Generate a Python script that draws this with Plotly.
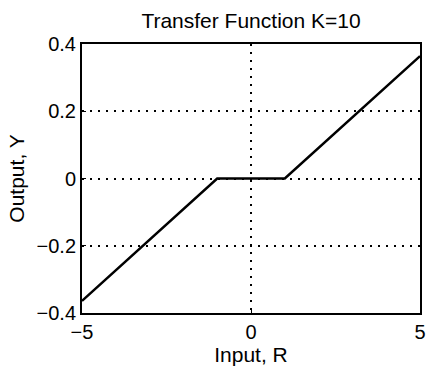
import plotly.graph_objects as go

# dead-zone transfer curve
input_r = [-5, -1, 1, 5]
output_y = [-0.364, 0.0, 0.0, 0.364]

x_ticks = [-5, 0, 5]
y_ticks = [-0.4, -0.2, 0, 0.2, 0.4]

FONT = "Liberation Sans, Arial, Helvetica, sans-serif"

W, H = 427, 368

fig = go.Figure()
fig.add_trace(go.Scatter(
    x=input_r, y=output_y, mode="lines",
    line=dict(color="black", width=2.5),
    showlegend=False,
))

axis_style = dict(
    showline=True, mirror=True, linecolor="black", linewidth=2,
    showgrid=True, gridcolor="black", gridwidth=1.8, griddash="2px,6px",
    zeroline=False, ticks="inside", ticklen=4, tickcolor="black",
    tickfont=dict(size=20, color="black"),
    automargin=False, ticklabeloverflow="allow",
)

fig.update_layout(
    width=W, height=H,
    paper_bgcolor="white", plot_bgcolor="white",
    font=dict(family=FONT, color="black"),
    margin=dict(l=82, r=7, t=44, b=55),
    title=dict(text="Transfer Function K=10", x=0.5, xref="paper",
               y=1 - 21 / H, yref="container", yanchor="middle",
               font=dict(size=21, color="black"), automargin=False),
    xaxis=dict(range=[-5, 5], tickvals=x_ticks,
               title=dict(text="Input, R", font=dict(size=21), standoff=2),
               **axis_style),
    yaxis=dict(range=[-0.4, 0.4], tickvals=y_ticks,
               title=dict(text="Output, Y", font=dict(size=21), standoff=6),
               **axis_style),
)

# drop the browser's default 8px body margin so the figure fills the window
fig.write_html("out.html",
               config={"displayModeBar": False},
               post_script="document.body.style.margin='0';"
                           "document.body.style.overflow='hidden';")
